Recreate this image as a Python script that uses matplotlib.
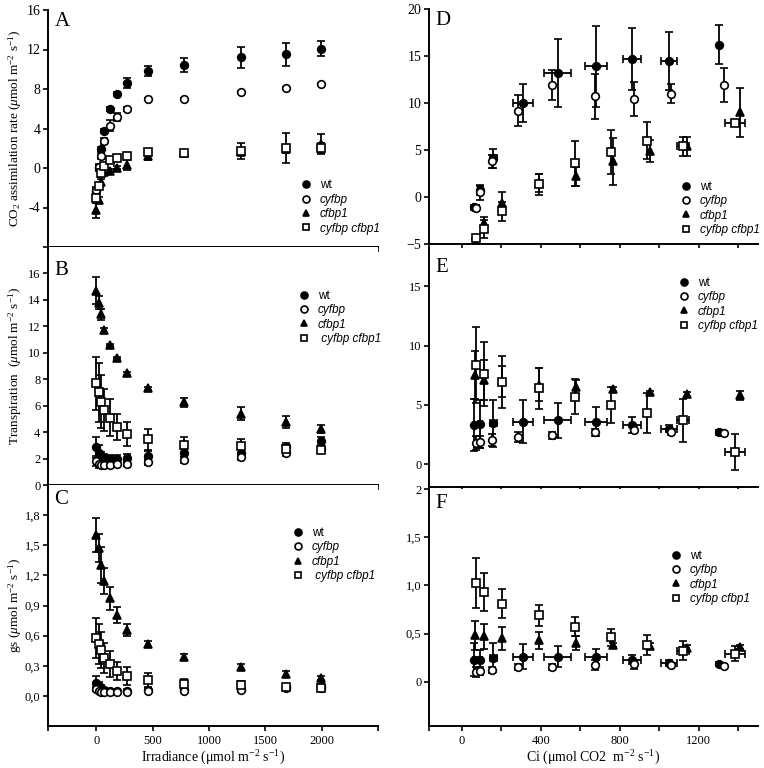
import matplotlib
matplotlib.use('Agg')
import matplotlib.pyplot as plt
from matplotlib.lines import Line2D
from matplotlib.ticker import FuncFormatter

# 光照强度 (A-C 横轴)
irr = [0, 20, 40, 70, 120, 180, 270, 460, 780, 1280, 1680, 1990]

# A: CO2 同化速率
a_wt = [-2.3, 0.0, 1.9, 3.7, 6.0, 7.5, 8.6, 9.8, 10.4, 11.2, 11.5, 12.1]
a_wt_err = [0.3, 0.3, 0.2, 0.2, 0.2, 0.2, 0.5, 0.5, 0.7, 1.1, 1.2, 0.8]
a_cy = [-2.2, 0.1, 1.25, 2.7, 4.3, 5.2, 6.0, 7.0, 7.0, 7.7, 8.1, 8.5]
a_cy_err = [0.3, 0.3, 0.3, 0.3, 0.6, 0.4, 0.2, 0.1, 0.1, 0.1, 0.1, 0.1]
a_cf = [-4.3, -3.2, -1.4, -0.4, -0.3, 0.05, 0.3, 1.2, 1.5, 1.6, 1.9, 2.4]
a_cf_err = [0.8, 0.3, 0.3, 0.3, 0.2, 0.2, 0.5, 0.4, 0.2, 0.3, 0.4, 1.0]
a_dm = [-3.0, -1.8, -0.5, 0.2, 0.8, 1.05, 1.2, 1.65, 1.55, 1.75, 2.0, 2.0]
a_dm_err = [0.3, 0.3, 0.4, 0.3, 0.2, 0.2, 0.2, 0.2, 0.2, 0.8, 1.5, 0.5]

# B: 蒸腾
b_wt = [2.85, 2.4, 2.1, 2.05, 2.0, 2.0, 2.05, 2.2, 2.4, 2.4, 2.9, 3.3]
b_wt_err = [0.8, 0.6, 0.4, 0.3, 0.3, 0.3, 0.3, 0.4, 0.3, 0.4, 0.3, 0.3]
b_cy = [1.8, 1.6, 1.5, 1.5, 1.5, 1.6, 1.6, 1.75, 1.9, 2.1, 2.4, 2.7]
b_cy_err = [0.4, 0.3, 0.2, 0.2, 0.2, 0.2, 0.2, 0.2, 0.2, 0.2, 0.2, 0.2]
b_cf = [14.7, 13.8, 12.9, 11.7, 10.6, 9.6, 8.45, 7.3, 6.25, 5.4, 4.75, 4.25]
b_cf_err = [1.0, 0.5, 0.4, 0.2, 0.1, 0.1, 0.1, 0.1, 0.35, 0.5, 0.45, 0.3]
b_dm = [7.7, 7.0, 6.3, 5.65, 5.1, 4.4, 3.87, 3.45, 3.05, 2.95, 2.75, 2.65]
b_dm_err = [2.0, 2.2, 2.0, 1.6, 1.4, 1.0, 0.9, 0.8, 0.55, 0.5, 0.3, 0.2]

# C: 气孔导度 gs
c_wt = [0.13, 0.10, 0.08, 0.06, 0.05, 0.05, 0.05, 0.06, 0.06, 0.07, 0.09, 0.10]
c_wt_err = [0.07, 0.04, 0.03, 0.02, 0.02, 0.02, 0.02, 0.02, 0.02, 0.02, 0.02, 0.02]
c_cy = [0.07, 0.05, 0.04, 0.04, 0.04, 0.04, 0.04, 0.05, 0.05, 0.06, 0.08, 0.08]
c_cy_err = [0.02, 0.02, 0.01, 0.01, 0.01, 0.01, 0.01, 0.01, 0.01, 0.02, 0.02, 0.02]
c_cf = [1.6, 1.47, 1.3, 1.14, 0.97, 0.81, 0.66, 0.52, 0.39, 0.29, 0.22, 0.18]
c_cf_err = [0.17, 0.14, 0.18, 0.13, 0.11, 0.08, 0.06, 0.03, 0.03, 0.03, 0.03, 0.02]
c_dm = [0.58, 0.52, 0.46, 0.38, 0.32, 0.25, 0.20, 0.16, 0.12, 0.11, 0.09, 0.08]
c_dm_err = [0.2, 0.2, 0.18, 0.15, 0.13, 0.09, 0.09, 0.07, 0.05, 0.04, 0.02, 0.02]

# D-F 横轴: 胞间 CO2 浓度 Ci
ci_wt = [64, 91, 160, 310, 485, 678, 863, 1050, 1305]
ci_wt_err = [8, 10, 18, 50, 68, 55, 45, 40, 0]
ci_cy = [70, 94, 155, 284, 456, 673, 872, 1058, 1327]
ci_cf = [66, 112, 205, 391, 578, 768, 955, 1142, 1408]
ci_dm = [72, 110, 204, 390, 575, 758, 940, 1120, 1382]
ci_dm_err = [10, 10, 0, 0, 0, 0, 0, 30, 50]

d_wt = [-1.1, 0.7, 4.1, 10.0, 13.2, 13.9, 14.7, 14.5, 16.2]
d_wt_err = [0.3, 0.5, 1.0, 2.0, 3.6, 4.3, 3.3, 3.1, 2.1]
d_cy = [-1.2, 0.5, 3.8, 9.2, 11.9, 10.7, 10.4, 11.0, 11.9]
d_cy_err = [0.3, 0.8, 0.7, 1.6, 1.6, 2.4, 1.8, 1.0, 1.8]
d_cf = [-4.8, -2.8, -0.6, 1.5, 2.2, 3.8, 4.9, 5.4, 9.0]
d_cf_err = [0.3, 0.7, 1.1, 1.0, 1.0, 2.5, 1.2, 1.0, 2.6]
d_dm = [-4.4, -3.4, -1.5, 1.35, 3.6, 4.8, 6.0, 5.4, 7.9]
d_dm_err = [0.3, 1.0, 1.0, 1.1, 2.4, 2.3, 2.0, 1.0, 0.3]

e_wt = [3.3, 3.4, 3.45, 3.6, 3.7, 3.6, 3.3, 3.0, 2.7]
e_wt_err = [2.2, 2.0, 2.0, 1.8, 1.5, 1.2, 0.7, 0.3, 0.2]
e_cy = [1.8, 1.9, 2.05, 2.3, 2.45, 2.7, 2.9, 2.7, 2.6]
e_cy_err = [0.6, 0.5, 0.5, 0.4, 0.3, 0.3, 0.3, 0.2, 0.2]
e_cf = [7.5, 7.1, 7.0, 6.7, 6.5, 6.3, 6.05, 5.9, 5.8]
e_cf_err = [2.0, 1.7, 1.3, 1.4, 0.6, 0.2, 0.1, 0.2, 0.4]
e_dm = [8.35, 7.6, 6.95, 6.4, 5.7, 5.0, 4.3, 3.7, 1.05]
e_dm_err = [3.2, 2.7, 2.2, 1.7, 1.5, 1.5, 1.7, 1.8, 1.5]

f_wt = [0.23, 0.23, 0.25, 0.26, 0.26, 0.26, 0.23, 0.19, 0.18]
f_wt_err = [0.17, 0.1, 0.15, 0.13, 0.11, 0.08, 0.05, 0.03, 0.02]
f_cy = [0.10, 0.11, 0.12, 0.15, 0.15, 0.17, 0.18, 0.17, 0.16]
f_cy_err = [0.05, 0.04, 0.03, 0.03, 0.03, 0.05, 0.05, 0.02, 0.02]
f_cf = [0.48, 0.47, 0.45, 0.43, 0.40, 0.38, 0.37, 0.35, 0.36]
f_cf_err = [0.15, 0.13, 0.12, 0.09, 0.07, 0.02, 0.03, 0.03, 0.02]
f_dm = [1.02, 0.93, 0.81, 0.69, 0.57, 0.46, 0.38, 0.32, 0.29]
f_dm_err = [0.26, 0.2, 0.15, 0.11, 0.1, 0.09, 0.1, 0.1, 0.08]

names = ['wt', 'cyfbp', 'cfbp1', 'cyfbp cfbp1']

SERIF = 'Liberation Serif'
SANS = 'Liberation Sans'
plt.rcParams['font.family'] = SERIF
plt.rcParams['mathtext.fontset'] = 'custom'
plt.rcParams['mathtext.rm'] = SERIF
plt.rcParams['mathtext.it'] = SERIF + ':italic'

# 四种基因型的标记样式
styles = [
    dict(fmt='o', mfc='black'),
    dict(fmt='o', mfc='white'),
    dict(fmt='^', mfc='black'),
    dict(fmt='s', mfc='white'),
]

fig = plt.figure(figsize=(7.64, 7.68), dpi=100)


def axes_px(left, top, right, bottom):
    W, H = 764, 768
    return fig.add_axes([left / W, 1 - bottom / H, (right - left) / W, (bottom - top) / H])


def draw(ax, xs, ys, yerrs, xerrs=None):
    for i, st in enumerate(styles):
        xe = None if xerrs is None else xerrs[i]
        ax.errorbar(xs[i], ys[i], yerr=yerrs[i], xerr=xe, fmt=st['fmt'], color='black',
                    mfc=st['mfc'], mec='black', mew=1.2, ms=5.5, capsize=2.6,
                    elinewidth=1.3, capthick=1.3, zorder=3 + (i % 2))


def style_axes(ax, letter, ly):
    for s in ['top', 'right']:
        ax.spines[s].set_visible(False)
    for s in ['left', 'bottom']:
        ax.spines[s].set_linewidth(1.4)
    ax.tick_params(direction='out', width=1.2, length=3.5, labelsize=10, pad=2)
    ax.text(0.02, ly, letter, transform=ax.transAxes, fontsize=15, va='top', ha='left')


def add_legend(ax, x, y, pad):
    handles = []
    for st in styles:
        handles.append(Line2D([], [], ls='none', marker=st['fmt'], mfc=st['mfc'],
                              mec='black', color='black', mew=1.2, ms=5))
    labels = ['wt', 'cyfbp', 'cfbp1', pad + 'cyfbp cfbp1']
    leg = ax.legend(handles, labels, loc='upper left', bbox_to_anchor=(x, y),
                    frameon=False, borderpad=0, handlelength=1.0, handletextpad=0.7,
                    labelspacing=0.2, prop={'family': SANS, 'size': 8.5})
    for i, t in enumerate(leg.get_texts()):
        if i > 0:
            t.set_fontstyle('italic')


comma = FuncFormatter(lambda v, p: ('%.1f' % v).replace('.', ','))

# 左列 A-C
axA = axes_px(48, 10, 378, 247)
axB = axes_px(48, 247, 378, 485)
axC = axes_px(48, 485, 378, 726)
# 右列 D-F
axD = axes_px(429, 9, 758, 244)
axE = axes_px(429, 248, 758, 487)
axF = axes_px(429, 489, 758, 726)

ir = [irr, irr, irr, irr]
draw(axA, ir, [a_wt, a_cy, a_cf, a_dm], [a_wt_err, a_cy_err, a_cf_err, a_dm_err])
draw(axB, ir, [b_wt, b_cy, b_cf, b_dm], [b_wt_err, b_cy_err, b_cf_err, b_dm_err])
draw(axC, ir, [c_wt, c_cy, c_cf, c_dm], [c_wt_err, c_cy_err, c_cf_err, c_dm_err])

ci = [ci_wt, ci_cy, ci_cf, ci_dm]
cxe = [ci_wt_err, None, None, ci_dm_err]
draw(axD, ci, [d_wt, d_cy, d_cf, d_dm], [d_wt_err, d_cy_err, d_cf_err, d_dm_err], cxe)
draw(axE, ci, [e_wt, e_cy, e_cf, e_dm], [e_wt_err, e_cy_err, e_cf_err, e_dm_err], cxe)
draw(axF, ci, [f_wt, f_cy, f_cf, f_dm], [f_wt_err, f_cy_err, f_cf_err, f_dm_err], cxe)

style_axes(axA, 'A', 0.99)
style_axes(axB, 'B', 0.94)
style_axes(axC, 'C', 0.98)
style_axes(axD, 'D', 0.99)
style_axes(axE, 'E', 0.96)
style_axes(axF, 'F', 0.98)

for ax in [axA, axB, axC]:
    ax.set_xlim(-430, 2500)
    ax.set_xticks([0, 500, 1000, 1500, 2000, 2500])
    ax.set_xticks([-430], minor=True)
    ax.tick_params(axis='x', which='minor', length=3.5, width=1.2)
for ax in [axD, axE, axF]:
    ax.set_xlim(-166, 1500)
    ax.set_xticks([0, 200, 400, 600, 800, 1000, 1200, 1400])
    ax.set_xticks([-166], minor=True)
    ax.tick_params(axis='x', which='minor', length=3.5, width=1.2)
for ax in [axA, axB, axD, axE]:
    ax.set_xticklabels([])

axC.set_xticklabels(['0', '500', '1000', '1500', '2000', ''])
axF.set_xticklabels(['0', '', '400', '', '800', '', '1200', ''])
for ax in [axC, axF]:
    ax.tick_params(axis='x', labelsize=9, pad=3)

axA.set_ylim(-8, 16)
axA.set_yticks([-8, -4, 0, 4, 8, 12, 16])
axA.set_yticklabels(['', '-4', '0', '4', '8', '12', '16'])
axB.set_ylim(0, 18)
axB.set_yticks([0, 2, 4, 6, 8, 10, 12, 14, 16])
axC.set_ylim(-0.3, 2.1)
axC.set_yticks([0, 0.3, 0.6, 0.9, 1.2, 1.5, 1.8])
axC.yaxis.set_major_formatter(comma)
axD.set_ylim(-5, 20)
axD.set_yticks([-5, 0, 5, 10, 15, 20])
axE.set_ylim(-1.9, 18.2)
axE.set_yticks([0, 5, 10, 15])
axF.set_ylim(-0.46, 2.0)
axF.set_yticks([0, 0.5, 1.0, 1.5, 2.0])
axF.set_yticklabels(['0', '0,5', '1,0', '1,5', '2'])
for ax in [axB, axC, axE, axF]:
    ax.tick_params(axis='y', labelsize=9)

unit = r'($\mu$mol m$^{-2}$ s$^{-1}$)'
axA.set_ylabel(r'CO$_2$ assimilation rate ' + unit, fontsize=9.5)
axB.set_ylabel(r'Transpiration  ' + unit, fontsize=9.5)
axC.set_ylabel(r'gs ' + unit, fontsize=9.5)
for ax in [axA, axB, axC]:
    ax.yaxis.set_label_coords(-0.072, 0.5)
axC.set_xlabel(r'Irradiance (μmol m$^{-2}$ s$^{-1}$)', fontsize=10, labelpad=1)
axF.set_xlabel(r'Ci (μmol CO2  m$^{-2}$ s$^{-1}$)', fontsize=10, labelpad=1)

add_legend(axA, 0.745, 0.31, '')
add_legend(axB, 0.739, 0.845, ' ')
add_legend(axC, 0.721, 0.85, ' ')
add_legend(axD, 0.745, 0.294, '')
add_legend(axE, 0.739, 0.904, '')
add_legend(axF, 0.714, 0.768, '')

fig.savefig('out.png', dpi=100)
